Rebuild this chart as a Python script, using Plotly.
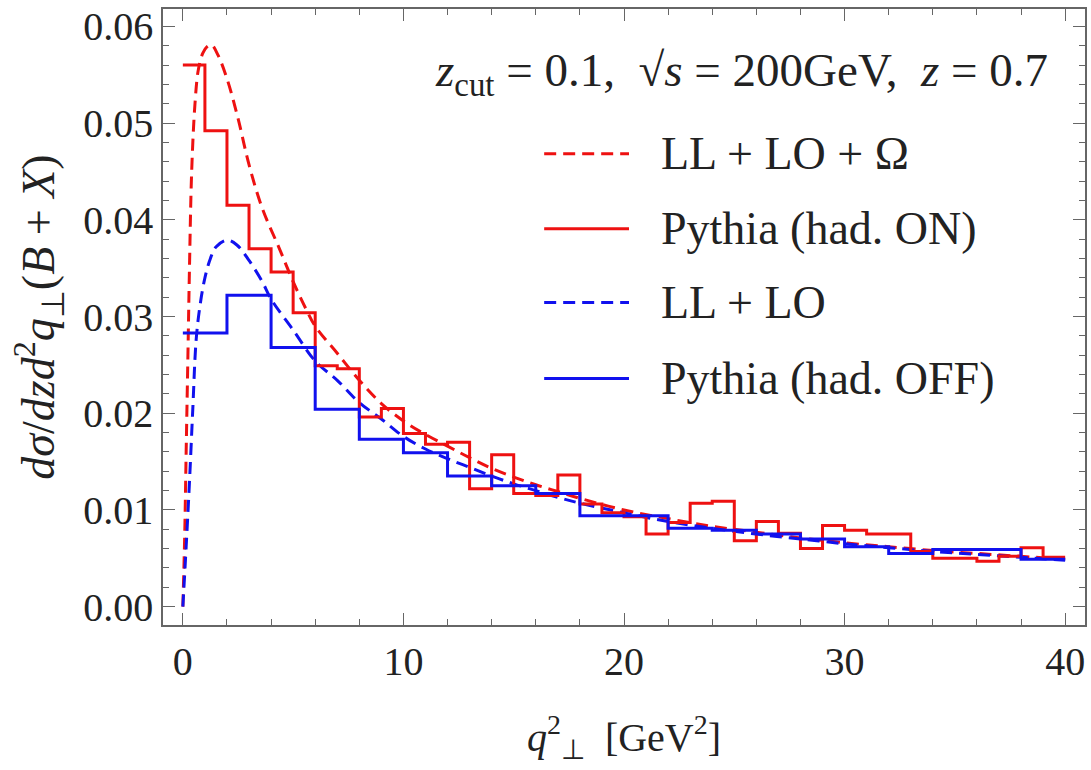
import plotly.graph_objects as go

# ---------------- data ----------------
# Pythia (had. ON): bin edges width 1 from 0 to 40
red_edges = list(range(0, 41))
red_hist = [0.0560, 0.0492, 0.0415, 0.0370, 0.0346, 0.0304, 0.0249, 0.0246, 0.0196, 0.0205,
            0.0179, 0.0168, 0.0170, 0.0122, 0.0157, 0.0117, 0.0115, 0.0136, 0.0106, 0.0097,
            0.0093, 0.0075, 0.0087, 0.0107, 0.0109, 0.0068, 0.0088, 0.0076, 0.0060, 0.0084,
            0.0079, 0.0075, 0.0075, 0.0057, 0.0050, 0.0050, 0.0047, 0.0052, 0.0061, 0.0051]

# Pythia (had. OFF): bin edges width 2 from 0 to 40
blue_edges = list(range(0, 41, 2))
blue_hist = [0.0283, 0.0322, 0.0268, 0.0204, 0.0173, 0.0159, 0.0135, 0.0125, 0.0117, 0.0094,
             0.0094, 0.0081, 0.0079, 0.0075, 0.0070, 0.0062, 0.0055, 0.0059, 0.0059, 0.0049]

# LL + LO + Omega (red dashed)
red_curve_q = [0, 0.08, 0.15, 0.23, 0.3, 0.4, 0.55, 0.7, 0.9, 1.1, 1.3, 1.6, 2.0, 2.5, 3.0, 3.6,
               4.4, 5.0, 5.6, 6.0, 7.0, 8.0, 9.0, 10.0, 11.0, 12.0, 13.0, 14.0, 15.0, 16.0,
               17.0, 18.0, 20.0, 22.0, 24.0, 26.0, 28.0, 30.0, 32.0, 34.0, 36.0, 38.0, 40.0]
red_curve_v = [0.0, 0.007, 0.016, 0.026, 0.035, 0.045, 0.052, 0.0555, 0.0572, 0.0579, 0.0581,
               0.0570, 0.0546, 0.0505, 0.0457, 0.0412, 0.0369, 0.0336, 0.0307, 0.0290, 0.0262,
               0.0234, 0.0210, 0.0192, 0.0178, 0.0166, 0.0154, 0.0143, 0.0134, 0.0126, 0.0119,
               0.0112, 0.0100, 0.0091, 0.0083, 0.0077, 0.0071, 0.0066, 0.0062, 0.0058, 0.0055,
               0.0052, 0.0049]

# LL + LO (blue dashed)
blue_curve_q = [0, 0.15, 0.3, 0.45, 0.6, 0.77, 1.0, 1.25, 1.5, 2.0, 2.45, 3.0, 3.6, 4.0, 5.0,
                6.0, 7.0, 8.0, 9.0, 10.0, 11.0, 12.0, 13.0, 14.0, 15.0, 16.0, 17.0, 18.0,
                20.0, 22.0, 24.0, 26.0, 28.0, 30.0, 32.0, 34.0, 36.0, 38.0, 40.0]
blue_curve_v = [0.0, 0.0062, 0.0129, 0.0204, 0.0275, 0.0310, 0.0340, 0.0360, 0.0372, 0.0379,
                0.0374, 0.0358, 0.0336, 0.0318, 0.0286, 0.0254, 0.0234, 0.0211, 0.0194, 0.0176,
                0.0163, 0.0153, 0.0144, 0.0135, 0.0127, 0.0120, 0.0113, 0.0107, 0.0097, 0.0088,
                0.0081, 0.0075, 0.0070, 0.0065, 0.0061, 0.0057, 0.0054, 0.0051, 0.0048]

legend_labels = ["LL + LO + Ω", "Pythia (had. ON)", "LL + LO", "Pythia (had. OFF)"]
x_ticks = [0, 10, 20, 30, 40]
y_ticks = [0.00, 0.01, 0.02, 0.03, 0.04, 0.05, 0.06]

RED = "#ee1111"
BLUE = "#1111ee"
DASH = "12px,7px"
FONT = "Liberation Serif"
TXT = "#222"

fig = go.Figure()
fig.add_trace(go.Scatter(x=red_curve_q, y=red_curve_v, mode="lines", line=dict(color=RED, width=3, dash=DASH, shape="spline"), showlegend=False))
fig.add_trace(go.Scatter(x=blue_curve_q, y=blue_curve_v, mode="lines", line=dict(color=BLUE, width=3, dash=DASH, shape="spline"), showlegend=False))
fig.add_trace(go.Scatter(x=red_edges, y=red_hist + [red_hist[-1]], mode="lines", line=dict(color=RED, width=3, shape="hv"), showlegend=False))
fig.add_trace(go.Scatter(x=blue_edges, y=blue_hist + [blue_hist[-1]], mode="lines", line=dict(color=BLUE, width=3, shape="hv"), showlegend=False))

# manual legend (paper coordinates)
L, T, W, H = 163, 8, 924, 617
def px(xp):
    return (xp - L) / W
def py(yp):
    return (T + H - yp) / H

legend_y = [153, 228, 302, 378]
legend_styles = [(RED, DASH), (RED, "solid"), (BLUE, DASH), (BLUE, "solid")]
for lbl, yy, (col, dsh) in zip(legend_labels, legend_y, legend_styles):
    fig.add_shape(type="line", xref="paper", yref="paper", x0=px(545), x1=px(630), y0=py(yy), y1=py(yy),
                  line=dict(color=col, width=3, dash=dsh))
    fig.add_annotation(xref="paper", yref="paper", x=px(660), y=py(yy), text=lbl, showarrow=False,
                       xanchor="left", yanchor="middle", font=dict(family=FONT, size=46, color=TXT))

fig.add_annotation(xref="paper", yref="paper", x=px(1052), y=py(73), xanchor="right", yanchor="middle", showarrow=False,
                   text="<i>z</i><sub>cut</sub> = 0.1,  √<i>s</i> = 200GeV,  <i>z</i> = 0.7",
                   font=dict(family=FONT, size=47, color=TXT))

axis_common = dict(showline=True, linecolor="#666", linewidth=1.5, mirror="ticks", ticks="inside",
                   tickcolor="#666", tickwidth=1.2, ticklen=12, showgrid=False, zeroline=False,
                   tickfont=dict(family=FONT, size=40, color=TXT))
fig.update_xaxes(range=[-0.9, 40.9], tickvals=x_ticks, ticktext=[str(v) for v in x_ticks],
                 minor=dict(dtick=2, tick0=0, ticks="inside", ticklen=6, tickcolor="#666", showgrid=False),
                 title=dict(text="<i>q</i><sup>2</sup><sub>⊥</sub>  [GeV<sup>2</sup>]", font=dict(family=FONT, size=40, color=TXT), standoff=40),
                 **axis_common)
fig.update_yaxes(range=[-0.0019, 0.0618], tickvals=y_ticks, ticktext=[f"{v:.2f}" for v in y_ticks],
                 minor=dict(dtick=0.002, tick0=0, ticks="inside", ticklen=6, tickcolor="#666", showgrid=False),
                 title=dict(text="<i>dσ</i>/<i>dzd</i><sup>2</sup><i>q</i><sub>⊥</sub>(<i>B</i> + <i>X</i>)", font=dict(family=FONT, size=46, color=TXT), standoff=14),
                 **axis_common)

fig.update_layout(width=1091, height=770, margin=dict(l=L, r=1091 - L - W, t=T, b=770 - T - H),
                  plot_bgcolor="white", paper_bgcolor="white", showlegend=False)

fig.write_html("out.html")
